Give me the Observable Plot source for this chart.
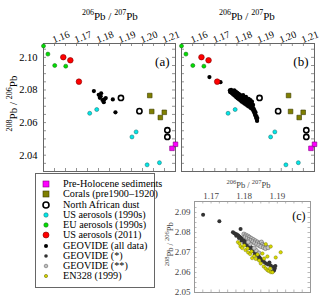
<!DOCTYPE html>
<html><head><meta charset="utf-8">
<script src="https://cdn.jsdelivr.net/npm/d3@7"></script>
<script src="https://cdn.jsdelivr.net/npm/@observablehq/plot@0.6"></script>
<style>
body{margin:0;background:#fff;}
#wrap{position:relative;width:320px;height:297px;overflow:hidden;font-family:"Liberation Serif","Times New Roman",serif;color:#000;}
.ttl{position:absolute;white-space:nowrap;font-size:11px;line-height:1;}
.ttl sup{font-size:8px;vertical-align:0;position:relative;top:-5px;}
#legend{position:absolute;left:35px;top:173px;width:120px;height:115px;border:1px solid #666;box-sizing:border-box;}
.row{position:absolute;left:0;height:10px;font-size:10.2px;line-height:10px;white-space:nowrap;}
.row svg{position:absolute;left:4px;top:0;}
.row span{position:absolute;left:27px;top:0;}
</style></head>
<body><div id="wrap"></div>
<script>
// ---------- data ----------
const preHolocene = [[1.2100,2.0467],[1.2084,2.0442]];
const corals = [[1.1983,2.0766],[1.1992,2.0668],[1.2049,2.0663],[1.2031,2.0631]];
const africanDust = [[1.1852,2.0751],[1.1936,2.0670],[1.2063,2.0553],[1.2063,2.0512]];
const usAerosols1990s = [[1.1710,2.0657],[1.1742,2.0680],[1.1902,2.0512],[1.1921,2.0543],[1.1971,2.0341],[1.2027,2.0354]];
const euAerosols1990s = [[1.1500,2.1070],[1.1520,2.1020],[1.1551,2.0950],[1.1601,2.0946]];
const usAerosols2011 = [[1.1590,2.1001],[1.1622,2.0982],[1.1661,2.0851]];
const geovideA = [[1.1729,2.0793],[1.1751,2.0770],[1.1762,2.0780],[1.1756,2.0752],[1.1777,2.0743],[1.1783,2.0750],[1.1774,2.0725],[1.1760,2.0762],[1.1768,2.0738],[1.1815,2.0742],[1.1827,2.0663]];
const geovideB = [[1.1626,2.0879],[1.1676,2.0848],
[1.1718,2.0797],[1.1720,2.0786],[1.1724,2.0800],[1.1727,2.0780],[1.1730,2.0793],[1.1733,2.0772],[1.1735,2.0786],[1.1738,2.0798],[1.1740,2.0765],[1.1742,2.0778],[1.1745,2.0790],[1.1747,2.0755],[1.1749,2.0770],[1.1752,2.0783],[1.1754,2.0748],[1.1756,2.0762],[1.1758,2.0776],[1.1760,2.0742],[1.1762,2.0755],[1.1764,2.0770],[1.1766,2.0735],[1.1768,2.0748],[1.1770,2.0762],[1.1772,2.0728],[1.1774,2.0742],[1.1776,2.0756],[1.1778,2.0768],[1.1779,2.0722],[1.1781,2.0735],[1.1783,2.0750],[1.1785,2.0716],[1.1787,2.0730],[1.1789,2.0744],[1.1791,2.0758],[1.1792,2.0710],[1.1794,2.0724],[1.1796,2.0738],[1.1798,2.0703],[1.1800,2.0717],[1.1802,2.0731],[1.1803,2.0746],[1.1805,2.0697],[1.1807,2.0710],[1.1809,2.0724],[1.1811,2.0738],[1.1812,2.0690],[1.1814,2.0703],[1.1816,2.0716],[1.1818,2.0728],[1.1819,2.0683],[1.1821,2.0695],[1.1823,2.0708],[1.1824,2.0672],[1.1826,2.0684],[1.1828,2.0662],[1.1829,2.0675],[1.1831,2.0652],[1.1833,2.0644],[1.1834,2.0662],[1.1836,2.0636],[1.1838,2.0626],[1.1840,2.0618],[1.1841,2.0610],[1.1838,2.0640],[1.1842,2.0628]];
const geovideStar = [[1.1676,2.0889],[1.1725,2.0856],[1.1789,2.0818],[1.1766,2.0801],[1.1770,2.0796],[1.1774,2.0792],[1.1778,2.0790],[1.1776,2.0784],[1.1782,2.0785],[1.1786,2.0779],[1.1784,2.0772],[1.1790,2.0774],[1.1794,2.0768],[1.1792,2.0760],[1.1798,2.0762],[1.1802,2.0756],[1.1800,2.0748],[1.1806,2.0750],[1.1810,2.0744],[1.1808,2.0736],[1.1814,2.0738],[1.1818,2.0730],[1.1816,2.0722],[1.1822,2.0724],[1.1826,2.0716],[1.1824,2.0706],[1.1830,2.0708],[1.1834,2.0700],[1.1832,2.0690],[1.1838,2.0692],[1.1842,2.0684],[1.1846,2.0676],[1.1844,2.0668],[1.1850,2.0668],[1.1855,2.0660],[1.1860,2.0652],[1.1866,2.0645],[1.1872,2.0640],[1.1876,2.0650],[1.1880,2.0635],[1.1888,2.0628],[1.1892,2.0620],[1.1890,2.0610],[1.1886,2.0605],[1.1894,2.0632]];
const geovideStar2 = [[1.1799,2.0792],[1.1805,2.0787],[1.1803,2.0778],[1.1811,2.0782],[1.1809,2.0772],[1.1816,2.0776],[1.1815,2.0766],[1.1822,2.0770],[1.1820,2.0760],[1.1828,2.0764],[1.1826,2.0754],[1.1834,2.0758],[1.1832,2.0748],[1.1840,2.0752],[1.1838,2.0742],[1.1846,2.0746],[1.1844,2.0736],[1.1852,2.0752],[1.1855,2.0740],[1.1850,2.0730],[1.1860,2.0735],[1.1858,2.0725],[1.1866,2.0730],[1.1864,2.0720],[1.1872,2.0724],[1.1844,2.0698],[1.1836,2.0710],[1.1830,2.0722],[1.1818,2.0742],[1.1812,2.0752]];
const en328 = [[1.1781,2.0752],[1.1786,2.0744],[1.1789,2.0730],[1.1794,2.0722],[1.1800,2.0735],[1.1804,2.0712],[1.1810,2.0720],[1.1812,2.0700],[1.1818,2.0692],[1.1824,2.0672],[1.1822,2.0705],[1.1830,2.0682],[1.1835,2.0668],[1.1840,2.0690],[1.1845,2.0660],[1.1850,2.0645],[1.1859,2.0630],[1.1865,2.0620],[1.1870,2.0612],[1.1874,2.0608],[1.1880,2.0602],[1.1885,2.0601],[1.1878,2.0620],[1.1895,2.0675],[1.1910,2.0701],[1.1880,2.0730],[1.1865,2.0742],[1.1870,2.0680],[1.1855,2.0695],[1.1860,2.0670]];

const xTicksMain = [1.16,1.17,1.18,1.19,1.20,1.21];
const yTicksMain = [2.04,2.06,2.08,2.10];
const xTicksC = [1.17,1.18,1.19];
const yTicksC = [2.05,2.06,2.07,2.08,2.09];
const legendLabels = ["Pre-Holocene sediments","Corals (pre1900\u20131920)","North African dust","US aerosols (1990s)","EU aerosols (1990s)","US aerosols (2011)","GEOVIDE (all data)","GEOVIDE (*)","GEOVIDE (**)","EN328 (1999)"];

// ---------- helpers ----------
const wrap = document.getElementById("wrap");
function range(a,b,s){const o=[];for(let v=a;v<=b+1e-9;v+=s)o.push(+v.toFixed(4));return o;}
function place(el,left,top){el.style.position="absolute";el.style.left=left+"px";el.style.top=top+"px";wrap.appendChild(el);}
const X=d=>d[0], Y=d=>d[1];

function inwardTicks(xs, ys, fw, fh, len, color){
  return [
    Plot.ruleX(xs,{stroke:color,strokeWidth:0.8,insetBottom:fh-len}),
    Plot.ruleX(xs,{stroke:color,strokeWidth:0.8,insetTop:fh-len}),
    Plot.ruleY(ys,{stroke:color,strokeWidth:0.8,insetRight:fw-len}),
    Plot.ruleY(ys,{stroke:color,strokeWidth:0.8,insetLeft:fw-len})
  ];
}

const common = {
  pre:  (data,r)=>Plot.dot(data,{x:X,y:Y,symbol:"square",r:r,fill:"#ff00ff",stroke:"#800080",strokeWidth:0.6}),
  cor:  (data,r)=>Plot.dot(data,{x:X,y:Y,symbol:"square",r:r,fill:"#7f7f00",stroke:"#3a3a00",strokeWidth:0.6}),
  dust: (data,r)=>Plot.dot(data,{x:X,y:Y,r:r,fill:"white",stroke:"black",strokeWidth:1.6}),
  usa:  (data,r)=>Plot.dot(data,{x:X,y:Y,r:r,fill:"#00e8e8",stroke:"#207878",strokeWidth:0.6}),
  eu:   (data,r)=>Plot.dot(data,{x:X,y:Y,r:r,fill:"#00e000",stroke:"#207020",strokeWidth:0.6}),
  us11: (data,r)=>Plot.dot(data,{x:X,y:Y,r:r,fill:"#ff0000",stroke:"#800000",strokeWidth:0.6}),
  geo:  (data,r)=>Plot.dot(data,{x:X,y:Y,r:r,fill:"black"})
};

function mainPanel(label, geoData, width, mL, mR, showY){
  const H=175, mT=43, mB=4;
  const fw=width-mL-mR, fh=H-mT-mB;
  const xMinor = range(1.155,1.205,0.005);
  const yMinor = range(2.035,2.105,0.005);
  return Plot.plot({
    width:width, height:H, marginLeft:mL, marginRight:mR, marginTop:mT, marginBottom:mB,
    style:{fontFamily:"Liberation Serif, serif",fontSize:"10.5px",background:"transparent",overflow:"visible",color:"#000"},
    x:{domain:[1.15,1.21],axis:null}, y:{domain:[2.030,2.1085],axis:null},
    marks:[
      ...inwardTicks(xMinor,yMinor,fw,fh,3,"#777"),
      Plot.frame({stroke:"#666"}),
      Plot.text(xTicksMain,{x:d=>d,frameAnchor:"top",dy:-10,dx:-6,rotate:-22,textAnchor:"middle",text:d=>d.toFixed(2),fontSize:10}),
      ...(showY?[Plot.axisY(yTicksMain,{anchor:"left",tickSize:0,tickPadding:6,tickFormat:d=>d.toFixed(2),fontSize:10.5})]:[]),
      common.pre(preHolocene,2.6),
      common.cor(corals,2.6),
      common.dust(africanDust,2.6),
      common.usa(usAerosols1990s,2.0),
      common.eu(euAerosols1990s,2.0),
      common.geo(geoData,2.1),
      common.us11(usAerosols2011,2.8),
      Plot.text([label],{frameAnchor:"top-right",dx:-6,dy:13,text:d=>d,fontSize:13})
    ]
  });
}

// panel a
place(mainPanel("(a)", geovideA, 178, 43, 3, true), 0, 0);
// panel b
place(mainPanel("(b)", geovideB, 142, 3, 6, false), 178, 0);

// panel c
(function(){
  const W=160,H=121,mL=34,mR=10,mT=25,mB=5;
  const fw=W-mL-mR, fh=H-mT-mB;
  const xMinor = range(1.1675,1.1975,0.0025);
  const yMinor = range(2.0525,2.0925,0.0025);
  const p = Plot.plot({
    width:W,height:H,marginLeft:mL,marginRight:mR,marginTop:mT,marginBottom:mB,
    style:{fontFamily:"Liberation Serif, serif",fontSize:"9px",background:"transparent",overflow:"visible",color:"#444"},
    x:{domain:[1.165,1.20]}, y:{domain:[2.05,2.0955]},
    marks:[
      ...inwardTicks(xMinor,yMinor,fw,fh,2.5,"#aaa"),
      Plot.frame({stroke:"#999"}),
      Plot.axisX(xTicksC,{anchor:"top",tickSize:0,tickPadding:3,tickFormat:d=>d.toFixed(2),fontSize:9}),
      Plot.axisY(yTicksC,{anchor:"left",tickSize:0,tickPadding:4,tickFormat:d=>d.toFixed(2),fontSize:9}),
      Plot.dot(geovideStar,{x:X,y:Y,r:2,fill:"#333"}),
      Plot.dot(geovideStar2,{x:X,y:Y,r:2.1,fill:"#c4c4c4",stroke:"#555",strokeWidth:0.5}),
      Plot.dot(en328,{x:X,y:Y,r:1.7,fill:"#d8d800",stroke:"#6a6a00",strokeWidth:0.4}),
      Plot.text(["(c)"],{frameAnchor:"top-right",dx:-5,dy:10,text:d=>d,fontSize:12,fill:"#000"})
    ]
  });
  place(p,160,176);
})();

// titles
function title(html, cx, cy, size, color, rotate){
  const d=document.createElement("div");
  d.className="ttl";
  d.innerHTML=html;
  if(size){d.style.fontSize=size+"px";}
  if(color)d.style.color=color;
  wrap.appendChild(d);
  const w=d.offsetWidth,h=d.offsetHeight;
  d.style.left=(cx-w/2)+"px"; d.style.top=(cy-h/2)+"px";
  if(rotate)d.style.transform="rotate(-90deg)";
  return d;
}
const t1 = "<sup>206</sup>Pb / <sup>207</sup>Pb";
const t2 = "<sup>208</sup>Pb / <sup>206</sup>Pb";
title(t1,110,16);
title(t1,247,16);
title(t2,14,103,null,null,true);
const tc1=title(t1,251,185,8.5,"#444");
tc1.querySelectorAll("sup").forEach(s=>{s.style.fontSize="6.5px";s.style.top="-4px";});
const tc2=title(t2,172,244,8.5,"#444",true);
tc2.querySelectorAll("sup").forEach(s=>{s.style.fontSize="6.5px";s.style.top="-4px";});

// legend
const leg=document.createElement("div"); leg.id="legend"; wrap.appendChild(leg);
const ns="http://www.w3.org/2000/svg";
const markers=[
  {t:"sq",f:"#ff00ff",s:"#800080",r:3},
  {t:"sq",f:"#7f7f00",s:"#3a3a00",r:3},
  {t:"c",f:"white",s:"black",r:3,sw:1.6},
  {t:"c",f:"#00e8e8",s:"#207878",r:2.2},
  {t:"c",f:"#00e000",s:"#207020",r:2.2},
  {t:"c",f:"#ff0000",s:"#800000",r:3},
  {t:"c",f:"black",s:"none",r:2},
  {t:"c",f:"#333",s:"none",r:1.8},
  {t:"c",f:"#c0c0c0",s:"#666",r:1.8},
  {t:"c",f:"#d8d800",s:"#6a6a00",r:1.6}
];
legendLabels.forEach((lab,i)=>{
  const row=document.createElement("div"); row.className="row";
  row.style.top=(5+i*10.25)+"px";
  const svg=document.createElementNS(ns,"svg"); svg.setAttribute("width",12); svg.setAttribute("height",10);
  const m=markers[i]; let el;
  if(m.t==="sq"){el=document.createElementNS(ns,"rect");el.setAttribute("x",6-m.r);el.setAttribute("y",5-m.r);el.setAttribute("width",2*m.r);el.setAttribute("height",2*m.r);}
  else{el=document.createElementNS(ns,"circle");el.setAttribute("cx",6);el.setAttribute("cy",5);el.setAttribute("r",m.r);}
  el.setAttribute("fill",m.f);el.setAttribute("stroke",m.s);el.setAttribute("stroke-width",m.sw||0.6);
  svg.appendChild(el); row.appendChild(svg);
  const sp=document.createElement("span"); sp.textContent=lab; row.appendChild(sp);
  leg.appendChild(row);
});
</script></body></html>
